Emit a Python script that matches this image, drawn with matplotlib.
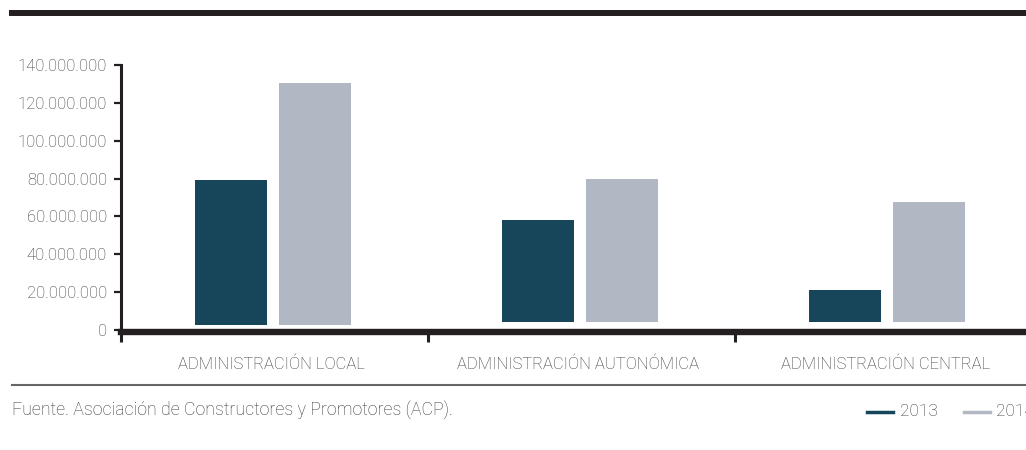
import numpy as np
import matplotlib
matplotlib.use("Agg")
import matplotlib.pyplot as plt
from matplotlib.lines import Line2D
from matplotlib.ticker import FuncFormatter

# Data (euros)
categories = ["ADMINISTRACIÓN LOCAL", "ADMINISTRACIÓN AUTONÓMICA", "ADMINISTRACIÓN CENTRAL"]
years = ["2013", "2014"]
values_2013 = [79200000, 58100000, 21100000]
values_2014 = [130500000, 79800000, 67600000]
# bars in the original float a little above the zero line
bar_base = [2600000, 4200000, 4200000]

dark = "#17455a"
light = "#b2b8c3"
txt = "#383838"

plt.rcParams['font.family'] = ['Roboto', 'DejaVu Sans']
plt.rcParams['font.weight'] = 'light'

W, H = 1026, 450
fig = plt.figure(figsize=(W / 100, H / 100), dpi=100)

# axes: left at x=121px, zero at y=330px, top at y=65px, 307px per category
ax = fig.add_axes([121 / W, (H - 330) / H, 921 / W, 265 / H])

x = np.arange(len(categories))
off = 0.137
bw = 0.235
base = np.array(bar_base)
ax.bar(x - 0.005 - off, np.array(values_2013) - base, bw, bottom=base, color=dark, zorder=2)
ax.bar(x - 0.005 + off, np.array(values_2014) - base, bw, bottom=base, color=light, zorder=2)

ax.set_xlim(-0.5, 2.5)
ax.set_ylim(0, 140000000)
ax.set_yticks(np.arange(0, 140000001, 20000000))
ax.yaxis.set_major_formatter(FuncFormatter(lambda v, p: f"{int(v):,}".replace(",", ".")))

ax.set_xticks([-0.5, 0.5, 1.5])
ax.set_xticklabels([])
ax.tick_params(axis="x", length=7, width=2.2, color="#231f20", direction="out")
ax.tick_params(axis="y", length=5, width=1.6, color="#231f20", direction="out",
               labelsize=12, labelcolor=txt, pad=5)

for s in ["top", "right"]:
    ax.spines[s].set_visible(False)
ax.spines["left"].set_linewidth(2.2)
ax.spines["left"].set_color("#231f20")
ax.spines["bottom"].set_linewidth(4.6)
ax.spines["bottom"].set_color("#231f20")
ax.spines["bottom"].set_position(("outward", 1.2))

for xi, c in zip(x, categories):
    ax.text(xi - 0.01, -18000000, c, ha="center", va="center", fontsize=12,
            color=txt, clip_on=False)

# top rule and bottom rule
fig.add_artist(Line2D([12 / W, 1], [1 - 13 / H, 1 - 13 / H], color="#231f20", lw=4.3))
fig.add_artist(Line2D([12 / W, 1], [1 - 385 / H, 1 - 385 / H], color="#666666", lw=1.5))

fig.text(12 / W, 1 - 410 / H, "Fuente. Asociación de Constructores y Promotores (ACP).",
         ha="left", va="center", fontsize=12.8, color=txt)

# legend by hand (the original cuts the last label at the right edge)
ly = 1 - 412 / H
fig.add_artist(Line2D([867 / W, 893 / W], [ly, ly], color=dark, lw=2.5))
fig.text(900 / W, ly, years[0], ha="left", va="center", fontsize=12.5, color=txt)
fig.add_artist(Line2D([964 / W, 990 / W], [ly, ly], color=light, lw=2.5))
fig.text(996 / W, ly, years[1], ha="left", va="center", fontsize=12.5, color=txt)

fig.savefig("out.png", dpi=100)
